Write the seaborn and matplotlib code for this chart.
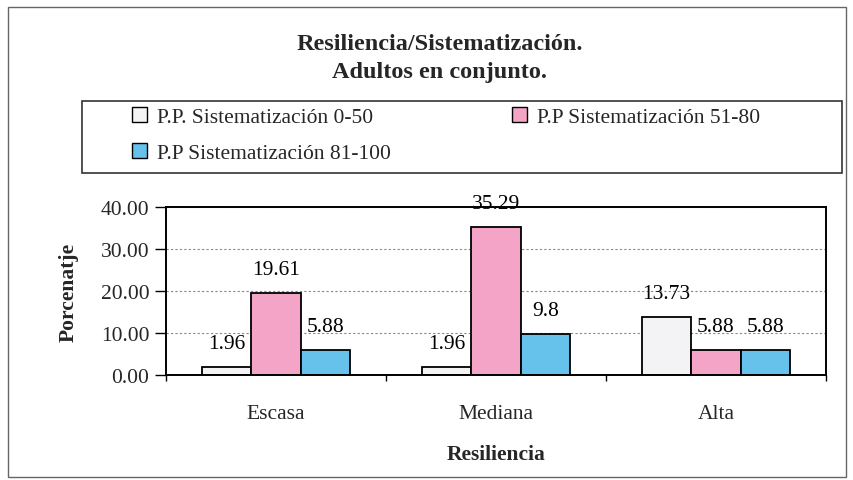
import matplotlib
matplotlib.use("Agg")
import matplotlib.pyplot as plt
import seaborn as sns
import pandas as pd
from matplotlib.patches import Rectangle, Patch

categories = ["Escasa", "Mediana", "Alta"]
series_names = ["P.P. Sistematización 0-50", "P.P Sistematización 51-80", "P.P Sistematización 81-100"]
values_0_50 = [1.96, 1.96, 13.73]
values_51_80 = [19.61, 35.29, 5.88]
values_81_100 = [5.88, 9.8, 5.88]
yticks = [0, 10, 20, 30, 40]

colors = ["#f3f3f6", "#f4a4c6", "#66c2ea"]

sns.set_theme(style="white")
plt.rcParams['font.family'] = ['Liberation Serif', 'DejaVu Serif']

rows = []
for name, vals in zip(series_names, [values_0_50, values_51_80, values_81_100]):
    for c, v in zip(categories, vals):
        rows.append({"Resiliencia": c, "serie": name, "Porcentaje": v})
df = pd.DataFrame(rows)

W, H = 854, 481
fig = plt.figure(figsize=(W / 100, H / 100), dpi=100)
fig.patch.set_facecolor("white")
ax = fig.add_axes([166 / W, 1 - 376 / H, (826 - 166) / W, (376 - 208) / H])

sns.barplot(data=df, x="Resiliencia", y="Porcentaje", hue="serie", order=categories,
            hue_order=series_names, palette=colors, width=0.675, ax=ax,
            edgecolor="black", linewidth=1.3, saturation=1, legend=False, errorbar=None)

ax.set_xlim(-0.5, 2.5)
ax.set_ylim(0, 40)
ax.set_yticks(yticks)
ax.set_yticklabels([f"{t:.2f}" for t in yticks])
ax.yaxis.grid(True, color="#888888", linestyle=(0, (2, 2)), linewidth=0.8)
ax.set_axisbelow(True)
for s in ax.spines.values():
    s.set_visible(True)
    s.set_color("black")
    s.set_linewidth(1.4)
ax.tick_params(axis="y", which="major", direction="out", length=8, width=1, color="black",
               labelsize=15.5, pad=4, left=True)
ax.tick_params(axis="x", which="major", length=0, labelsize=15.5, pad=21)
ax.set_xticks([-0.5, 0.5, 1.5, 2.5], minor=True)
ax.tick_params(axis="x", which="minor", direction="out", length=4, width=1, color="black", bottom=True)
ax.set_xlabel("Resiliencia", fontsize=15.5, fontweight="bold", labelpad=15)
ax.set_ylabel("Porcenatje", fontsize=15.5, fontweight="bold", labelpad=16)

for cont in ax.containers:
    for bar in cont:
        h = bar.get_height()
        ax.annotate(f"{h:g}", (bar.get_x() + bar.get_width() / 2, h), xytext=(0, 17),
                    textcoords="offset points", ha="center", va="center", fontsize=15.5,
                    color="black", annotation_clip=False)

# titles
fig.text(440 / W, 1 - 44 / H, "Resiliencia/Sistematización.", ha="center", va="center",
         fontsize=17.5, fontweight="bold")
fig.text(440 / W, 1 - 73 / H, "Adultos en conjunto.", ha="center", va="center",
         fontsize=17.5, fontweight="bold")

# legend frame
fig.patches.append(Rectangle((82 / W, 1 - 174 / H), 760 / W, 72 / H, transform=fig.transFigure,
                             facecolor="none", edgecolor="#333333", linewidth=1.2))
# outer frame
fig.patches.append(Rectangle((8 / W, 1 - 478 / H), 838 / W, 470 / H, transform=fig.transFigure,
                             facecolor="none", edgecolor="#666666", linewidth=1.0))

order = [0, 2, 1]
handles = [Patch(facecolor=colors[i], edgecolor="black", linewidth=1.0) for i in order]
labels = [series_names[i] for i in order]
fs = 15.5
fs_px = fs * 100 / 72
kw = dict(ncol=2, frameon=False, fontsize=fs, handlelength=0.7, handleheight=0.7,
          handletextpad=0.45, labelspacing=0.72, borderpad=0, borderaxespad=0,
          loc="upper left", bbox_to_anchor=(132 / W, 1 - 108 / H), bbox_transform=fig.transFigure)
leg = fig.legend(handles, labels, columnspacing=2.0, **kw)
fig.canvas.draw()
r = fig.canvas.get_renderer()
tw = max(leg.get_texts()[i].get_window_extent(r).width for i in [0, 1])
cs = (512 - 132 - (0.7 + 0.45) * fs_px - tw) / fs_px
leg.remove()
leg = fig.legend(handles, labels, columnspacing=cs, **kw)

fig.savefig("out.png", dpi=100)
